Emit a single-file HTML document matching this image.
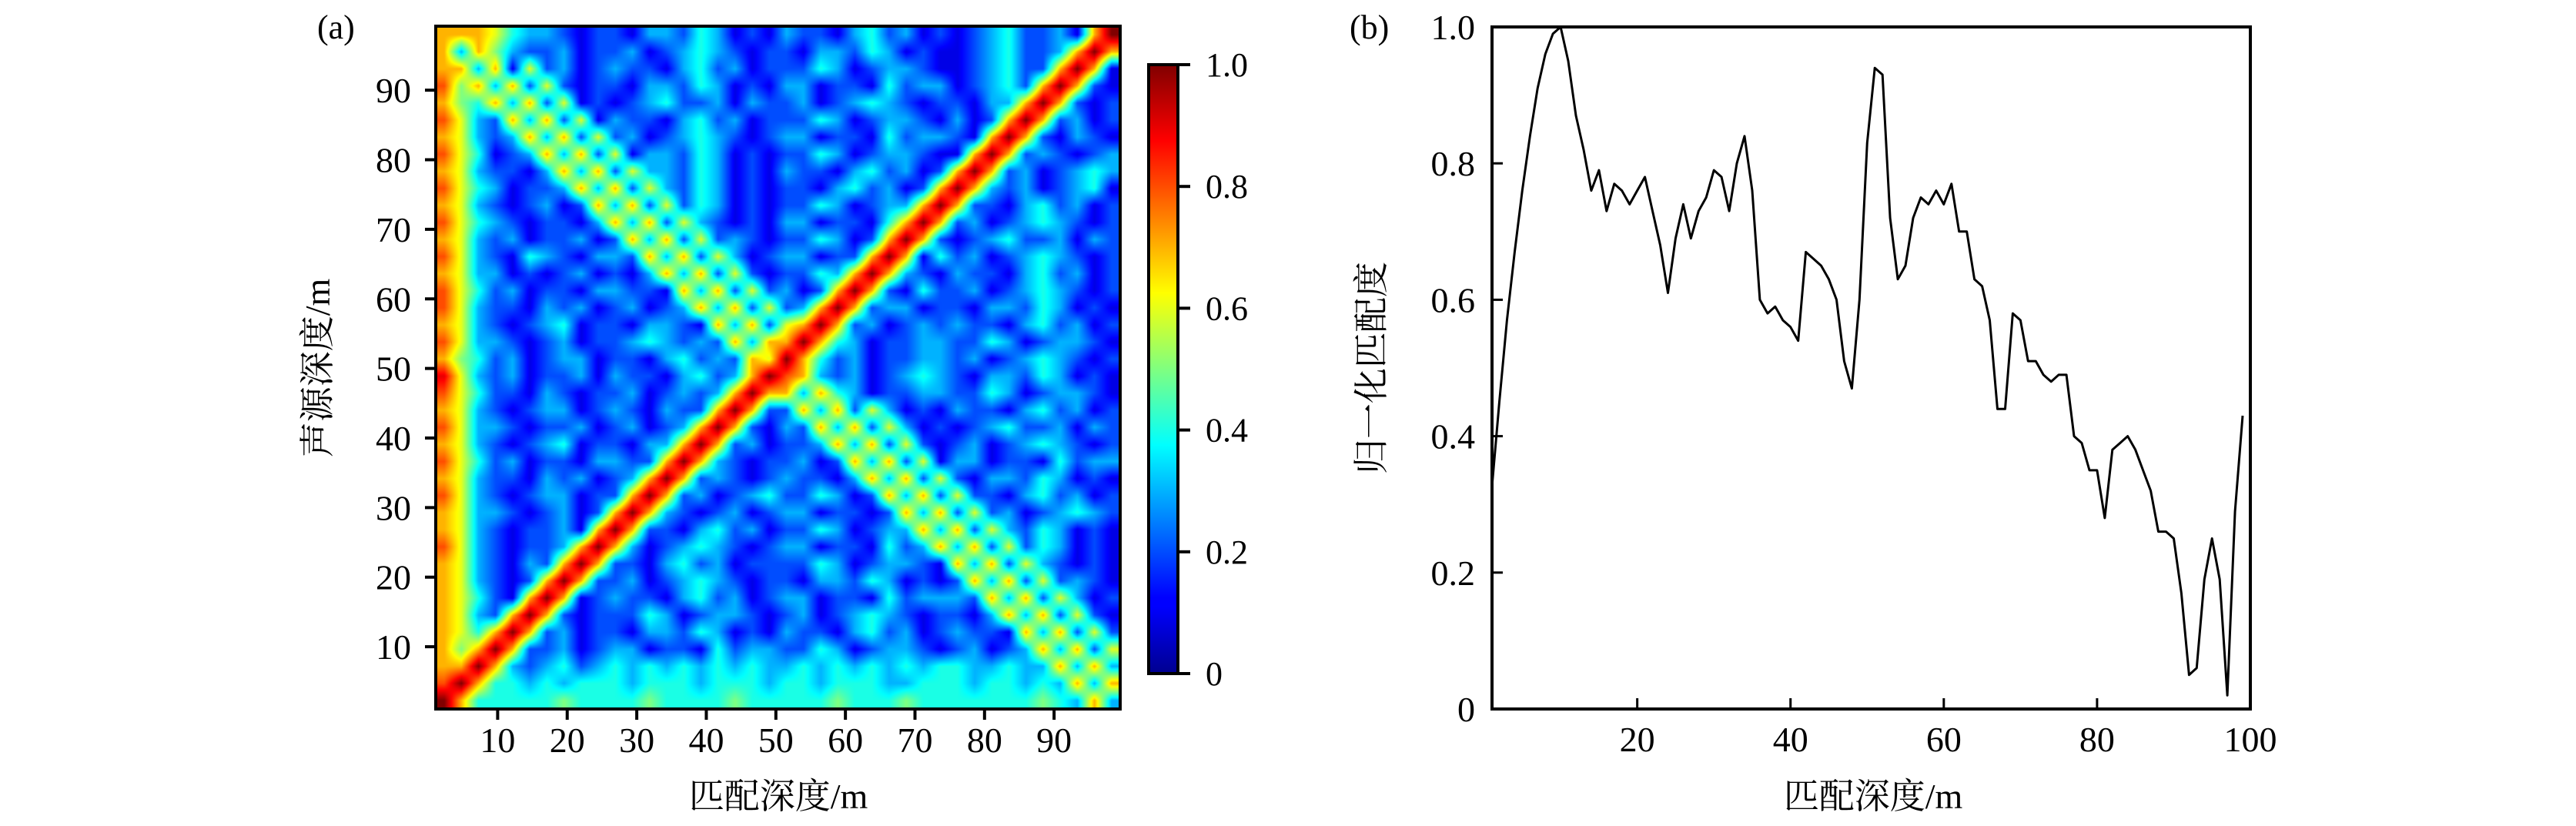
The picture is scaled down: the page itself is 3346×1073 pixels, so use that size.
<!DOCTYPE html>
<html><head><meta charset="utf-8">
<style>
html,body{margin:0;padding:0;background:#fff;}
svg{display:block;}
#wrap{position:relative;width:3346px;height:1073px;}
#hm{position:absolute;left:566px;top:34px;}
#fig{position:absolute;left:0;top:0;}
text{font-family:"Liberation Serif","Noto Serif CJK SC",serif;fill:#000;}
</style></head>
<body>
<div id="wrap">
<canvas id="hm" width="889" height="887"></canvas>
<svg id="fig" width="3346" height="1073" viewBox="0 0 3346 1073" xmlns="http://www.w3.org/2000/svg">
<defs>
<linearGradient id="jet" x1="0" y1="1" x2="0" y2="0">
<stop offset="0" stop-color="#00008f"/><stop offset="0.11" stop-color="#0000ff"/><stop offset="0.125" stop-color="#0000ff"/>
<stop offset="0.375" stop-color="#00ffff"/><stop offset="0.625" stop-color="#ffff00"/><stop offset="0.875" stop-color="#ff0000"/><stop offset="1" stop-color="#800000"/>
</linearGradient>
</defs>
<g id="panelA">
<rect x="566" y="34" width="889" height="887" fill="none" stroke="#000" stroke-width="4"/>
<g id="axA"></g>
<text x="412" y="50" font-size="44">(a)</text>
<text x="1011" y="1050" font-size="46" text-anchor="middle">匹配深度/m</text>
<text transform="translate(428,478) rotate(-90)" font-size="46" text-anchor="middle">声源深度/m</text>
<rect x="1492" y="84" width="38" height="791" fill="url(#jet)" stroke="#000" stroke-width="4"/>
<g id="cbar"></g>
</g>
<g id="panelB">
<rect x="1938" y="35" width="985" height="886" fill="none" stroke="#000" stroke-width="4"/>
<g id="axB"></g>
<path id="line" fill="none" stroke="#000" stroke-width="3" stroke-linejoin="round"/>
<text x="1753" y="50" font-size="44">(b)</text>
<text x="2433" y="1050" font-size="46" text-anchor="middle">匹配深度/m</text>
<text transform="translate(1797,478) rotate(-90)" font-size="46" text-anchor="middle">归一化匹配度</text>
</g>
</svg>
</div>
<script>
const hmXTicks=[10,20,30,40,50,60,70,80,90];
const hmYTicks=[10,20,30,40,50,60,70,80,90];
const cbTicks=[0,0.2,0.4,0.6,0.8,1.0];
const cbTickLabels=["0","0.2","0.4","0.6","0.8","1.0"];
// 40x40 matrix, rows from top (depth 99) to bottom (depth 1); each char = value*10 ('a' = 1.0)
const hmRows=[
"7776433212"+"2133243121"+"3221342312"+"123422317a",
"7375322312"+"2312343212"+"2133243121"+"12342237a7",
"7737162312"+"3221342312"+"2243123321"+"1234227a71",
"8573726212"+"2133243121"+"3312214233"+"123427a721",
"7547372612"+"1234223132"+"2312343212"+"21337a7212",
"8632737261"+"3221342312"+"2243123321"+"3127a72312",
"7632373726"+"2312343212"+"3312214233"+"217a721321",
"8641237372"+"6133243121"+"2243123321"+"17a7232123",
"7632213737"+"2633243121"+"3221342312"+"7a72312343",
"8643122373"+"7263243121"+"2213423127"+"a732312341",
"7632123127"+"3726243121"+"224312337a"+"7221342312",
"8643212213"+"7372632121"+"33122147a7"+"2312343212",
"7632312231"+"2737262321"+"2243127a72"+"1234223132",
"8632143213"+"3273726312"+"331227a714"+"2312343212",
"7633121231"+"2137372621"+"22437a7321"+"3221342312",
"8642312213"+"3221737262"+"3127a72142"+"2312343212",
"8632213231"+"2312373726"+"237a723312"+"2133243121",
"7632123412"+"2133217372"+"67a7231232"+"3221342312",
"8633212312"+"2343232737"+"7a74312233"+"2243123321",
"7542312331"+"2213423276"+"a742312233"+"2312343212",
"9632312231"+"322134237a"+"8732312343"+"2133243121",
"8642213212"+"23123237a7"+"7374312233"+"2243123321",
"7632123312"+"3213227a72"+"2737263121"+"3221342312",
"8633212231"+"231237a721"+"3273726312"+"1234223132",
"7632123412"+"21337a7231"+"2237372621"+"2312343212",
"8642312213"+"3227a73212"+"2312737261"+"3312214233",
"7632213231"+"237a723212"+"3221373726"+"2133243121",
"8632123312"+"27a7231234"+"2243127372"+"6221342312",
"7633212312"+"7a73212312"+"3312212737"+"2623123432",
"7632122317"+"a722134231"+"2243123373"+"7263243121",
"863212237a"+"7312343212"+"3312214237"+"3726243121",
"76321327a7"+"2213423122"+"2243123321"+"7372632121",
"7632127a72"+"2312343212"+"2133243121"+"2737262321",
"764217a712"+"3221342312"+"3312214233"+"3273726312",
"76327a7212"+"2243123321"+"2312343212"+"2137372621",
"7647a72312"+"2133243121"+"3221342312"+"3221737262",
"757a722312"+"3312214233"+"2243123321"+"2312373726",
"77a7323423"+"4343434343"+"3434343434"+"4334337373",
"8a74434344"+"4344434443"+"4434443344"+"4344343737",
"a744444544"+"4454444544"+"4445444544"+"4444454373"
];
const lineX=[];for(let i=1;i<=99;i++)lineX.push(i);
const lineY=[.32,.45,.57,.67,.76,.84,.91,.96,.99,1.0,.95,.87,.82,.76,.79,.73,.77,.76,.74,.76,.78,.73,.68,.61,.69,.74,.69,.73,.75,.79,.78,.73,.80,.84,.76,.60,.58,.59,.57,.56,.54,.67,.66,.65,.63,.60,.51,.47,.60,.83,.94,.93,.72,.63,.65,.72,.75,.74,.76,.74,.77,.70,.70,.63,.62,.57,.44,.44,.58,.57,.51,.51,.49,.48,.49,.49,.40,.39,.35,.35,.28,.38,.39,.40,.38,.35,.32,.26,.26,.25,.17,.05,.06,.19,.25,.19,.02,.29,.43];
const lnXTicks=[20,40,60,80,100];
const lnYTicks=[0,0.2,0.4,0.6,0.8,1.0];
const lnYTickLabels=["0","0.2","0.4","0.6","0.8","1.0"];

const NS="http://www.w3.org/2000/svg";
function mk(tag,attrs,parent){const e=document.createElementNS(NS,tag);for(const k in attrs)e.setAttribute(k,attrs[k]);parent.appendChild(e);return e;}
const hxMin=1.1,hxMax=99.5,hyMin=1.05,hyMax=99.2;
const hx=v=>566+(v-hxMin)/(hxMax-hxMin)*889;
const hy=v=>921-(v-hyMin)/(hyMax-hyMin)*887;
const cby=v=>875-v*791;
const lxMin=1.05,lxMax=100;
const lx=v=>1938+(v-lxMin)/(lxMax-lxMin)*985;
const ly=v=>921-v*886;
function jetRGB(v){v=Math.max(0,Math.min(1,v));
 const r=Math.max(0,Math.min(1,Math.min(4*v-1.5,-4*v+4.5)));
 const g=Math.max(0,Math.min(1,Math.min(4*v-0.5,-4*v+3.5)));
 const b=Math.max(0,Math.min(1,Math.min(4*v+0.5,-4*v+2.5)));
 return [r*255,g*255,b*255];}
const hmMatrix=hmRows.map(s=>s.split('').map(ch=>ch==='a'?1:parseInt(ch,10)/10));
// render heatmap with bilinear interpolation of values
(function(){
 const cv=document.getElementById('hm');const ctx=cv.getContext('2d');
 const W=cv.width,H=cv.height,nR=hmMatrix.length,nC=hmMatrix[0].length;
 const img=ctx.createImageData(W,H);const d=img.data;
 const get=(r,c)=>hmMatrix[Math.max(0,Math.min(nR-1,r))][Math.max(0,Math.min(nC-1,c))];
 for(let py=0;py<H;py++){
  const fy=(py+0.5)/H*nR-0.5;const r0=Math.floor(fy),ty=fy-r0;
  for(let px=0;px<W;px++){
   const fx=(px+0.5)/W*nC-0.5;const c0=Math.floor(fx),tx=fx-c0;
   const v=(get(r0,c0)*(1-tx)+get(r0,c0+1)*tx)*(1-ty)+(get(r0+1,c0)*(1-tx)+get(r0+1,c0+1)*tx)*ty;
   const col=jetRGB(v);const i=(py*W+px)*4;
   d[i]=col[0];d[i+1]=col[1];d[i+2]=col[2];d[i+3]=255;
  }
 }
 ctx.putImageData(img,0,0);
})();
const axA=document.getElementById('axA');
hmXTicks.forEach(t=>{
 const l=mk('line',{x1:hx(t),x2:hx(t),y1:921,y2:935,stroke:'#000','stroke-width':4},axA);
 
 
 const tx=mk('text',{x:hx(t),y:977,'font-size':46,'text-anchor':'middle'},axA);tx.textContent=t;
 
 
});
hmYTicks.forEach(t=>{
 const l=mk('line',{x1:552,x2:566,y1:hy(t),y2:hy(t),stroke:'#000','stroke-width':4},axA);
 
 
 const tx=mk('text',{x:534,y:hy(t)+16,'font-size':46,'text-anchor':'end'},axA);tx.textContent=t;
 
 
});
const cbar=document.getElementById('cbar');
cbTicks.forEach((t,i)=>{
 const l=mk('line',{x1:1530,x2:1546,y1:cby(t),y2:cby(t),stroke:'#000','stroke-width':4},cbar);
 
 
 const tx=mk('text',{x:1566,y:cby(t)+15,'font-size':44},cbar);tx.textContent=cbTickLabels[i];
 
 
});
const axB=document.getElementById('axB');
lnXTicks.forEach(t=>{
 const l=mk('line',{x1:lx(t),x2:lx(t),y1:921,y2:907,stroke:'#000','stroke-width':3},axB);
 
 
 const tx=mk('text',{x:lx(t),y:976,'font-size':46,'text-anchor':'middle'},axB);tx.textContent=t;
 
 
});
lnYTicks.forEach((t,i)=>{
 const l=mk('line',{x1:1938,x2:1952,y1:ly(t),y2:ly(t),stroke:'#000','stroke-width':3},axB);
 
 
 const tx=mk('text',{x:1916,y:ly(t)+16,'font-size':46,'text-anchor':'end'},axB);tx.textContent=lnYTickLabels[i];
 
 
});
document.getElementById('line').setAttribute('d',lineX.map((x,i)=>(i?'L':'M')+lx(x).toFixed(1)+','+ly(lineY[i]).toFixed(1)).join(' '));
</script>
</body></html>
